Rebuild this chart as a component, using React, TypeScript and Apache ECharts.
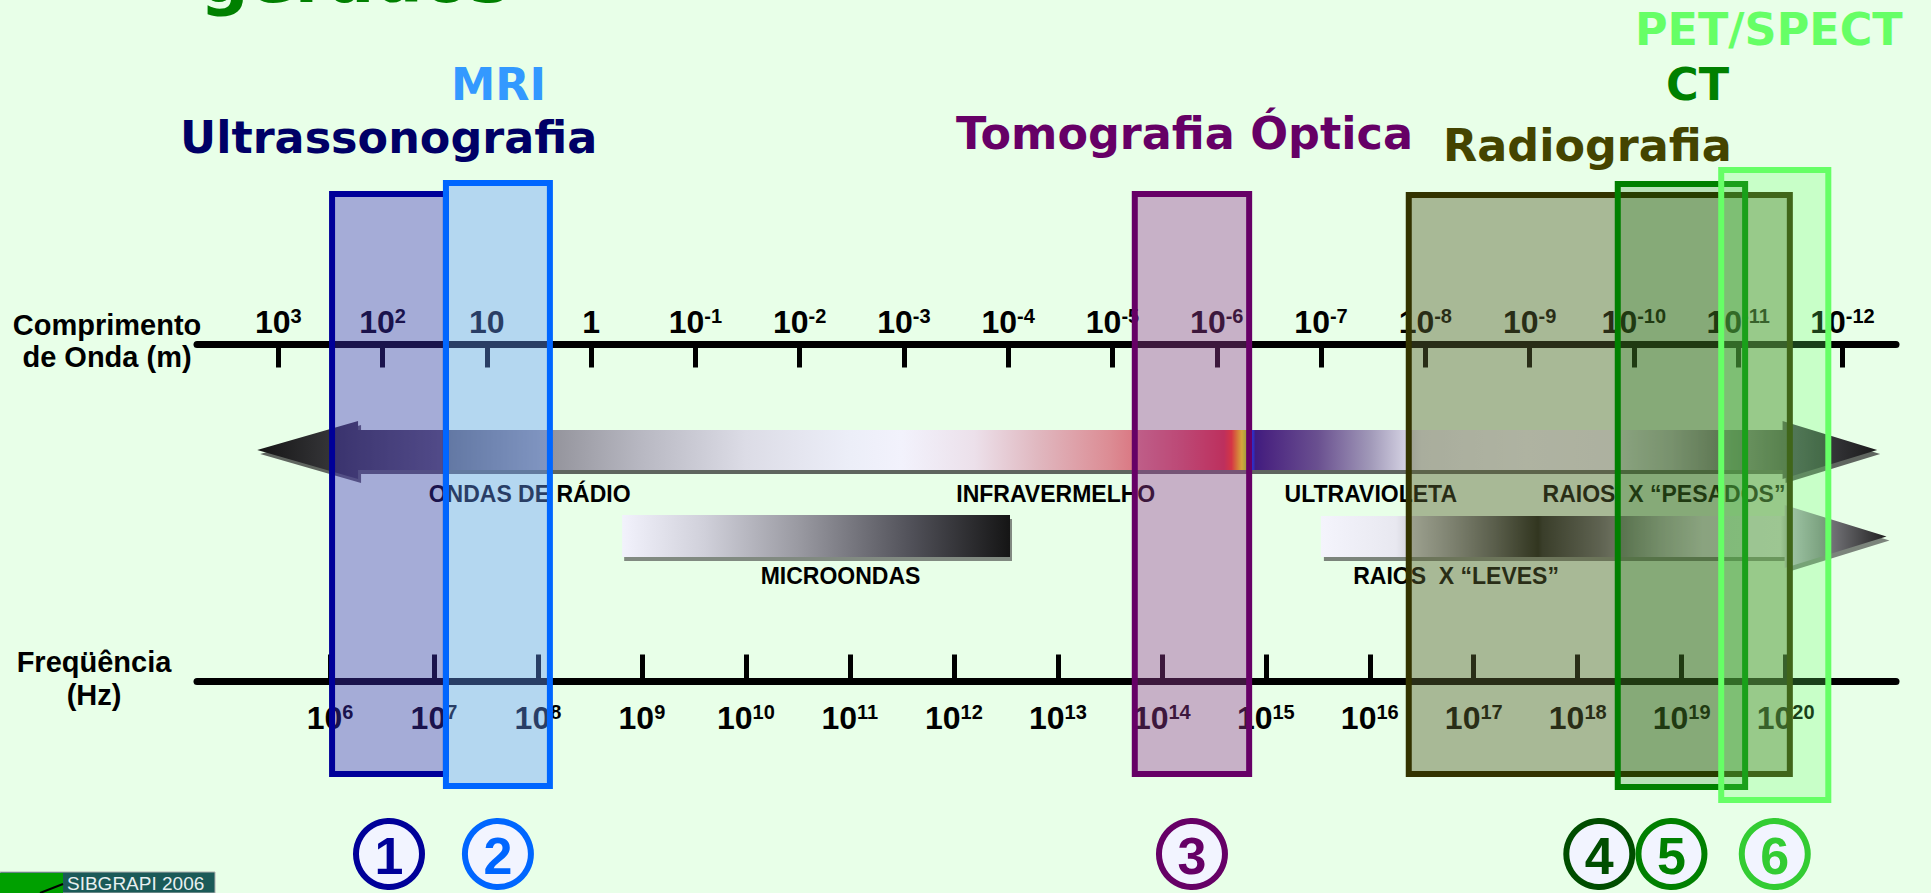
import React, { useEffect, useRef } from "react";
import * as echarts from "echarts";

// ---------- data ----------
const wavelengthExponents = [3, 2, 1, 0, -1, -2, -3, -4, -5, -6, -7, -8, -9, -10, -11, -12];
const frequencyExponents = [6, 7, 8, 9, 10, 11, 12, 13, 14, 15, 16, 17, 18, 19, 20];
const wavelengthAxisRange = [-12.514, 3.78];
const frequencyAxisRange = [4.721, 21.061];

const modalityNames = ["Ultrassonografia", "MRI", "Tomografia Óptica", "Radiografia", "CT", "PET/SPECT"];
const modalityNumbers = ["1", "2", "3", "4", "5", "6"];
const modalityFreqFrom = [6.02, 7.115, 13.74, 16.375, 18.385, 19.38];
const modalityFreqTo = [7.115, 8.115, 14.84, 20.04, 19.61, 20.41];

const bandNames = ["ONDAS DE RÁDIO", "MICROONDAS", "INFRAVERMELHO", "ULTRAVIOLETA", "RAIOS  X \u201cLEVES\u201d", "RAIOS  X \u201cPESADOS\u201d"];
const bandLabelCenters = [7.92, 10.91, 12.98, 16.01, 16.83, 18.83];
const bandLabelRow = [0, 1, 0, 0, 1, 0];

// spectrum arrows (frequency exponents)
const mainArrowExtent = [5.3, 6.27, 19.97, 20.88]; // left tip, left head base, right head base, right tip
const lightXrayArrowExtent = [15.53, 19.99, 20.97]; // tail, head base, tip
const microwaveBarExtent = [8.81, 12.54];

const mainArrowStops: [number, string][] = [
  [5.3, "#151515"], [6.27, "#404044"], [7.0, "#5a5a62"], [8.0, "#8e8e96"], [9.0, "#b8b8c2"],
  [10.0, "#dcdce6"], [11.0, "#eceef8"], [11.5, "#f2f2fc"], [12.2, "#ece0ea"], [12.8, "#e0b8c0"],
  [13.5, "#dc8c94"], [14.2, "#d65060"], [14.6, "#d82838"], [14.67, "#ff3010"], [14.72, "#ff9000"],
  [14.77, "#ffee00"], [14.82, "#a0e000"], [14.86, "#2040ff"], [14.9, "#401c80"], [15.0, "#4a2480"],
  [15.5, "#6a5090"], [16.0, "#a098b8"], [16.5, "#eaeaf4"], [17.5, "#f4f4fc"], [18.4, "#f0f0f8"],
  [18.9, "#c8c8d0"], [19.4, "#8a8a92"], [19.97, "#505058"], [20.88, "#1a1a1a"],
];
const lightXrayStops: [number, string][] = [
  [15.53, "#f4f4fc"], [16.25, "#e8e8f0"], [16.7, "#a8a8b0"], [17.2, "#5a5a60"], [17.62, "#101010"],
  [17.66, "#202024"], [18.2, "#606068"], [18.8, "#c0c0c8"], [19.2, "#f0f0f8"], [19.95, "#f4f4fc"],
  [20.05, "#b0b0b8"], [20.97, "#202020"],
];
const microwaveStops: [number, string][] = [
  [8.81, "#f2f2fc"], [9.6, "#d0d0da"], [10.5, "#9a9aa2"], [11.6, "#505058"], [12.54, "#151515"],
];

// ---------- style / layout ----------
const ARIAL = '"Liberation Sans", Arial, Helvetica, sans-serif';
const VERDANA = '"DejaVu Sans", Verdana, sans-serif';
const BG = "#e8ffe8";

const modalityStroke = ["#000099", "#0066ff", "#660066", "#333300", "#008000", "#66ff66"];
const modalityFill = [
  "rgba(65,48,190,0.4)", "rgba(102,155,252,0.4)", "rgba(150,60,150,0.4)",
  "rgba(90,100,52,0.45)", "rgba(0,110,0,0.2)", "rgba(102,255,102,0.25)",
];
const circleStroke = ["#000099", "#0066ff", "#660066", "#004d00", "#008000", "#33cc33"];
const headingColor = ["#000066", "#3399ff", "#660066", "#444400", "#008000", "#66ff66"];
const boxVertical = [[194, 774], [183, 786], [194, 774], [195, 774], [184, 787], [170, 800]];
const circleOffset = [0, 0, 0, 0, -10, 0];
const headingPos = [[180, 137], [451, 84], [956, 133], [1443, 145], [1666, 84], [1635, 29]];

const powerLabel = (v: number) => `{b|10}{s|${v}}`;
const wavelengthLabel = (v: number) => (v === 0 ? "{b|1}" : v === 1 ? "{b|10}" : powerLabel(v));
const richLabel = {
  b: { fontFamily: ARIAL, fontWeight: "bold", fontSize: 32, color: "#000", lineHeight: 36, verticalAlign: "top" },
  s: { fontFamily: ARIAL, fontWeight: "bold", fontSize: 20, color: "#000", lineHeight: 19, verticalAlign: "top" },
};

function gradient(X: (e: number) => number, e0: number, e1: number, stops: [number, string][]) {
  const x0 = X(e0), x1 = X(e1);
  return new echarts.graphic.LinearGradient(
    x0, 0, x1, 0,
    stops.map(([e, c]) => ({ offset: Math.min(1, Math.max(0, (X(e) - x0) / (x1 - x0))), color: c })),
    true
  );
}

export default function App() {
  const ref = useRef<HTMLDivElement>(null);
  useEffect(() => {
    if (!ref.current) return;
    const chart = echarts.init(ref.current, undefined, { renderer: "svg" });

    const bandsRender = (_params: any, api: any) => {
      const X = (e: number) => api.coord([e, 0])[0];
      const children: any[] = [];
      // main arrow
      const [lt, lb, rb, rt] = mainArrowExtent.map(X);
      const cy = 450, sh = 20, hh = 29;
      const mainPts = [
        [lt, cy], [lb, cy - hh], [lb, cy - sh], [rb, cy - sh], [rb, cy - hh], [rt, cy],
        [rb, cy + hh], [rb, cy + sh], [lb, cy + sh], [lb, cy + hh],
      ];
      children.push({ type: "polygon", shape: { points: mainPts.map(([x, y]) => [x + 3, y + 4]) }, style: { fill: "rgba(50,50,50,0.75)" } });
      children.push({ type: "polygon", shape: { points: mainPts }, style: { fill: gradient(X, mainArrowExtent[0], mainArrowExtent[3], mainArrowStops) } });
      // light x-ray arrow
      const [tl, hb, tp] = lightXrayArrowExtent.map(X);
      const cy2 = 536.5, sh2 = 20.5, hh2 = 31.5;
      const xPts = [
        [tl, cy2 - sh2], [hb, cy2 - sh2], [hb, cy2 - hh2], [tp, cy2], [hb, cy2 + hh2], [hb, cy2 + sh2], [tl, cy2 + sh2],
      ];
      children.push({ type: "polygon", shape: { points: xPts.map(([x, y]) => [x + 3, y + 4]) }, style: { fill: "rgba(50,50,50,0.6)" } });
      children.push({ type: "polygon", shape: { points: xPts }, style: { fill: gradient(X, lightXrayArrowExtent[0], lightXrayArrowExtent[2], lightXrayStops) } });
      // microwave bar
      const m0 = X(microwaveBarExtent[0]), m1 = X(microwaveBarExtent[1]);
      children.push({ type: "rect", shape: { x: m0 + 2, y: 519, width: m1 - m0, height: 42 }, style: { fill: "rgba(60,60,60,0.6)" } });
      children.push({ type: "rect", shape: { x: m0, y: 515, width: m1 - m0, height: 42 }, style: { fill: gradient(X, microwaveBarExtent[0], microwaveBarExtent[1], microwaveStops) } });
      // labels
      bandNames.forEach((name, i) => {
        children.push({
          type: "text",
          x: X(bandLabelCenters[i]),
          y: bandLabelRow[i] === 0 ? 494 : 576,
          style: { text: name, fill: "#000", fontFamily: ARIAL, fontWeight: "bold", fontSize: 23, align: "center", verticalAlign: "middle" },
        });
      });
      return { type: "group", children };
    };

    const modalityRender = (_params: any, api: any) => {
      const i = api.value(2);
      const x0 = api.coord([api.value(0), 0])[0];
      const x1 = api.coord([api.value(1), 0])[0];
      const [top, bottom] = boxVertical[i];
      const cx = (x0 + x1) / 2 + circleOffset[i];
      return {
        type: "group",
        children: [
          { type: "rect", shape: { x: x0, y: top, width: x1 - x0, height: bottom - top }, style: { fill: modalityFill[i], stroke: modalityStroke[i], lineWidth: 6 } },
          { type: "circle", shape: { cx, cy: 854, r: 33 }, style: { fill: "#f2f4ff", stroke: circleStroke[i], lineWidth: 6 } },
          {
            type: "text", x: cx, y: 856,
            style: { text: modalityNumbers[i], fill: circleStroke[i], fontFamily: ARIAL, fontWeight: "bold", fontSize: 52, align: "center", verticalAlign: "middle" },
          },
        ],
      };
    };

    const graphic: any[] = [
      { type: "text", x: 200, y: -22, style: { text: "gerados", fill: "#008000", fontFamily: VERDANA, fontWeight: "bold", fontSize: 68, align: "left", verticalAlign: "middle" } },
      ...modalityNames.map((name, i) => ({
        type: "text", x: headingPos[i][0], y: headingPos[i][1],
        style: { text: name, fill: headingColor[i], fontFamily: VERDANA, fontWeight: "bold", fontSize: 44.5, align: "left", verticalAlign: "middle" },
      })),
      { type: "text", x: 107, y: 325, style: { text: "Comprimento", fill: "#000", fontFamily: ARIAL, fontWeight: "bold", fontSize: 29, align: "center", verticalAlign: "middle" } },
      { type: "text", x: 107, y: 357, style: { text: "de Onda (m)", fill: "#000", fontFamily: ARIAL, fontWeight: "bold", fontSize: 29, align: "center", verticalAlign: "middle" } },
      { type: "text", x: 94, y: 662, style: { text: "Freqüência", fill: "#000", fontFamily: ARIAL, fontWeight: "bold", fontSize: 29, align: "center", verticalAlign: "middle" } },
      { type: "text", x: 94, y: 695, style: { text: "(Hz)", fill: "#000", fontFamily: ARIAL, fontWeight: "bold", fontSize: 29, align: "center", verticalAlign: "middle" } },
      // logo
      { type: "rect", shape: { x: 0, y: 872, width: 215, height: 21 }, style: { fill: "#1b5a58", stroke: "#b0b0b0", lineWidth: 1 } },
      { type: "rect", shape: { x: 0, y: 873, width: 63, height: 20 }, style: { fill: "#00a000" } },
      { type: "line", shape: { x1: 40, y1: 893, x2: 63, y2: 884 }, style: { stroke: "#000", lineWidth: 2 } },
      { type: "text", x: 67, y: 883, style: { text: "SIBGRAPI 2006", fill: "#e8f0f0", fontFamily: ARIAL, fontSize: 19, align: "left", verticalAlign: "middle" } },
    ];

    chart.setOption({
      animation: false,
      backgroundColor: BG,
      grid: { left: 197, right: 35, top: 344.5, bottom: 211.5, containLabel: false },
      xAxis: [
        {
          type: "value", gridIndex: 0, position: "top", inverse: true,
          min: wavelengthAxisRange[0], max: wavelengthAxisRange[1],
          axisLine: { show: true, onZero: false, lineStyle: { color: "#000", width: 7 } },
          axisTick: { show: true, inside: true, length: 23, lineStyle: { color: "#000", width: 5 }, customValues: wavelengthExponents },
          axisLabel: { show: true, margin: 3, customValues: wavelengthExponents, formatter: (v: number) => wavelengthLabel(v), rich: richLabel },
          splitLine: { show: false },
        },
        {
          type: "value", gridIndex: 0, position: "bottom",
          min: frequencyAxisRange[0], max: frequencyAxisRange[1],
          axisLine: { show: true, onZero: false, lineStyle: { color: "#000", width: 7 } },
          axisTick: { show: true, inside: true, length: 27, lineStyle: { color: "#000", width: 5 }, customValues: frequencyExponents },
          axisLabel: { show: true, margin: 20, customValues: frequencyExponents, formatter: (v: number) => powerLabel(v), rich: richLabel },
          splitLine: { show: false },
        },
      ],
      yAxis: [{ type: "value", gridIndex: 0, min: 0, max: 1, show: false }],
      graphic,
      series: [
        { type: "custom", xAxisIndex: 1, yAxisIndex: 0, z: 2, clip: false, data: [[0]], renderItem: bandsRender },
        {
          type: "custom", xAxisIndex: 1, yAxisIndex: 0, z: 5, clip: false,
          data: modalityNames.map((_, i) => [modalityFreqFrom[i], modalityFreqTo[i], i]),
          renderItem: modalityRender,
        },
      ],
    });
    return () => chart.dispose();
  }, []);
  return <div ref={ref} style={{ position: "fixed", left: 0, top: 0, width: 1931, height: 893 }} />;
}
